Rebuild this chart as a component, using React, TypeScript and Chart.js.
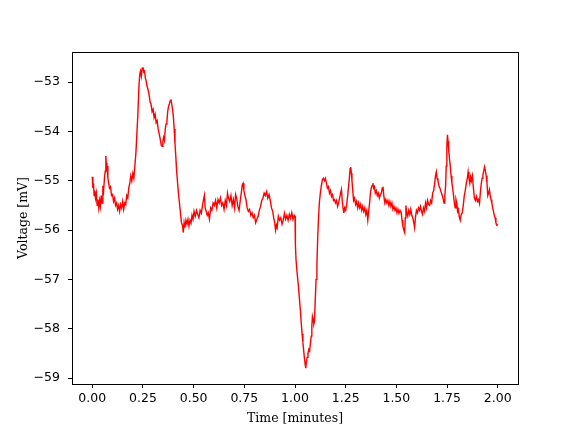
import React, { useEffect, useRef } from "react";
import { Chart, registerables } from "chart.js";

Chart.register(...registerables);

const timeMinutes: number[] = [
  0.000, 0.003, 0.006, 0.009, 0.012, 0.016, 0.020, 0.024, 0.028, 0.032, 0.036, 0.040, 0.044, 0.048, 0.052, 0.056, 0.060, 0.064, 0.067, 0.070,
  0.073, 0.077, 0.081, 0.085, 0.090, 0.095, 0.100, 0.105, 0.110, 0.115, 0.120, 0.125, 0.130, 0.135, 0.140, 0.145, 0.150, 0.155, 0.160, 0.165,
  0.170, 0.175, 0.180, 0.185, 0.190, 0.195, 0.200, 0.205, 0.210, 0.215, 0.220, 0.225, 0.230, 0.234, 0.238, 0.242, 0.246, 0.250, 0.254, 0.258,
  0.262, 0.266, 0.270, 0.275, 0.280, 0.285, 0.290, 0.295, 0.300, 0.305, 0.310, 0.315, 0.320, 0.325, 0.330, 0.335, 0.340, 0.344, 0.348, 0.352,
  0.356, 0.360, 0.364, 0.368, 0.372, 0.376, 0.380, 0.384, 0.388, 0.392, 0.396, 0.400, 0.404, 0.408, 0.412, 0.416, 0.420, 0.425, 0.430, 0.435,
  0.440, 0.445, 0.449, 0.453, 0.457, 0.462, 0.467, 0.472, 0.477, 0.482, 0.487, 0.492, 0.497, 0.502, 0.508, 0.514, 0.520, 0.526, 0.532, 0.538,
  0.544, 0.549, 0.553, 0.557, 0.562, 0.567, 0.572, 0.578, 0.584, 0.590, 0.596, 0.602, 0.608, 0.614, 0.620, 0.626, 0.632, 0.638, 0.644, 0.650,
  0.656, 0.662, 0.667, 0.672, 0.678, 0.684, 0.690, 0.696, 0.702, 0.707, 0.712, 0.718, 0.724, 0.730, 0.735, 0.740, 0.744, 0.748, 0.753, 0.758,
  0.764, 0.770, 0.776, 0.782, 0.788, 0.794, 0.800, 0.806, 0.812, 0.818, 0.824, 0.830, 0.836, 0.842, 0.848, 0.854, 0.860, 0.866, 0.872, 0.878,
  0.884, 0.890, 0.896, 0.900, 0.904, 0.908, 0.912, 0.918, 0.924, 0.930, 0.936, 0.942, 0.948, 0.954, 0.960, 0.966, 0.972, 0.978, 0.984, 0.990,
  0.996, 1.000, 1.002, 1.005, 1.010, 1.016, 1.022, 1.027, 1.031, 1.035, 1.039, 1.043, 1.047, 1.050, 1.053, 1.056, 1.060, 1.064, 1.068, 1.072,
  1.076, 1.080, 1.083, 1.086, 1.089, 1.093, 1.096, 1.100, 1.104, 1.108, 1.112, 1.116, 1.120, 1.125, 1.130, 1.135, 1.140, 1.145, 1.150, 1.155,
  1.160, 1.165, 1.170, 1.175, 1.180, 1.185, 1.190, 1.195, 1.200, 1.205, 1.210, 1.215, 1.220, 1.225, 1.229, 1.233, 1.237, 1.241, 1.245, 1.250,
  1.255, 1.260, 1.264, 1.268, 1.272, 1.275, 1.278, 1.281, 1.285, 1.289, 1.294, 1.299, 1.304, 1.309, 1.314, 1.319, 1.324, 1.329, 1.334, 1.339,
  1.344, 1.349, 1.354, 1.359, 1.364, 1.368, 1.372, 1.376, 1.380, 1.384, 1.388, 1.392, 1.396, 1.401, 1.406, 1.411, 1.416, 1.421, 1.426, 1.430,
  1.434, 1.438, 1.443, 1.448, 1.453, 1.458, 1.463, 1.468, 1.473, 1.478, 1.483, 1.488, 1.493, 1.498, 1.503, 1.508, 1.513, 1.518, 1.524, 1.528,
  1.532, 1.537, 1.541, 1.544, 1.547, 1.551, 1.556, 1.561, 1.566, 1.571, 1.576, 1.581, 1.586, 1.590, 1.594, 1.599, 1.604, 1.609, 1.614, 1.619,
  1.624, 1.629, 1.634, 1.639, 1.644, 1.649, 1.654, 1.659, 1.664, 1.669, 1.674, 1.679, 1.684, 1.689, 1.693, 1.697, 1.701, 1.705, 1.710, 1.715,
  1.720, 1.725, 1.730, 1.735, 1.739, 1.743, 1.746, 1.749, 1.752, 1.755, 1.758, 1.762, 1.766, 1.770, 1.774, 1.778, 1.782, 1.786, 1.790, 1.794,
  1.798, 1.802, 1.806, 1.810, 1.815, 1.820, 1.825, 1.830, 1.835, 1.840, 1.845, 1.850, 1.854, 1.858, 1.862, 1.866, 1.870, 1.875, 1.880, 1.885,
  1.890, 1.895, 1.900, 1.905, 1.910, 1.915, 1.919, 1.923, 1.927, 1.931, 1.935, 1.939, 1.943, 1.947, 1.951, 1.955, 1.959, 1.963, 1.967, 1.971,
  1.975, 1.979, 1.983, 1.987, 1.991, 1.995, 2.000,
];

const voltageMv: number[] = [
  -54.92, -55.15, -55.05, -55.30, -55.20, -55.35, -55.25, -55.50, -55.38, -55.55, -55.40, -55.52, -55.30, -55.45, -55.10, -55.20, -54.95, -54.80, -54.50, -54.75,
  -54.70, -54.95, -55.05, -55.15, -55.12, -55.30, -55.28, -55.42, -55.35, -55.50, -55.45, -55.58, -55.50, -55.62, -55.48, -55.55, -55.42, -55.58, -55.45, -55.48,
  -55.30, -55.35, -55.15, -55.05, -54.90, -55.00, -54.85, -54.95, -54.70, -54.45, -54.05, -53.65, -53.10, -52.85, -52.78, -52.88, -52.72, -52.70, -52.80, -52.78,
  -52.92, -52.98, -53.08, -53.15, -53.25, -53.40, -53.45, -53.60, -53.55, -53.72, -53.65, -53.82, -53.78, -53.95, -54.05, -54.15, -54.28, -54.30, -54.20, -54.12,
  -54.18, -53.95, -53.85, -53.80, -53.60, -53.50, -53.45, -53.38, -53.35, -53.45, -53.55, -53.70, -53.95, -54.25, -54.50, -54.80, -55.00, -55.25, -55.45, -55.65,
  -55.85, -55.90, -56.05, -55.85, -55.95, -55.80, -55.88, -55.78, -55.92, -55.80, -55.86, -55.70, -55.78, -55.62, -55.72, -55.60, -55.68, -55.75, -55.60, -55.66,
  -55.50, -55.38, -55.30, -55.55, -55.62, -55.70, -55.65, -55.78, -55.55, -55.60, -55.45, -55.50, -55.40, -55.55, -55.38, -55.45, -55.35, -55.50, -55.45, -55.58,
  -55.40, -55.50, -55.25, -55.35, -55.42, -55.30, -55.50, -55.38, -55.55, -55.28, -55.35, -55.52, -55.60, -55.40, -55.25, -55.08, -55.05, -55.20, -55.30, -55.38,
  -55.55, -55.62, -55.58, -55.70, -55.65, -55.75, -55.70, -55.85, -55.78, -55.72, -55.60, -55.52, -55.40, -55.35, -55.25, -55.30, -55.22, -55.35, -55.28, -55.40,
  -55.55, -55.62, -55.78, -55.85, -56.00, -55.90, -55.95, -55.72, -55.80, -55.75, -55.88, -55.80, -55.66, -55.78, -55.70, -55.80, -55.68, -55.76, -55.65, -55.78,
  -55.70, -55.72, -56.30, -56.60, -56.85, -57.10, -57.40, -57.65, -57.90, -58.10, -58.28, -58.45, -58.62, -58.72, -58.80, -58.68, -58.58, -58.50, -58.42, -58.45,
  -58.30, -58.15, -57.95, -57.75, -57.80, -57.90, -57.85, -57.40, -57.00, -56.70, -56.15, -55.75, -55.45, -55.25, -55.10, -54.98, -54.95, -55.00, -54.95, -55.05,
  -55.15, -55.12, -55.25, -55.20, -55.32, -55.28, -55.40, -55.38, -55.45, -55.40, -55.52, -55.45, -55.35, -55.25, -55.18, -55.40, -55.55, -55.65, -55.55, -55.60,
  -55.48, -55.30, -55.12, -54.95, -54.75, -54.72, -54.85, -55.00, -55.20, -55.40, -55.35, -55.48, -55.42, -55.55, -55.45, -55.55, -55.48, -55.60, -55.52, -55.62,
  -55.55, -55.68, -55.60, -55.80, -55.60, -55.45, -55.25, -55.15, -55.10, -55.05, -55.15, -55.12, -55.25, -55.20, -55.30, -55.25, -55.35, -55.28, -55.25, -55.15,
  -55.12, -55.30, -55.45, -55.38, -55.45, -55.40, -55.50, -55.42, -55.52, -55.45, -55.58, -55.52, -55.60, -55.55, -55.65, -55.58, -55.66, -55.60, -55.65, -55.80,
  -55.92, -56.00, -56.05, -55.75, -55.50, -55.65, -55.72, -55.60, -55.68, -55.58, -55.70, -55.75, -55.85, -55.95, -55.75, -55.60, -55.65, -55.55, -55.60, -55.52,
  -55.62, -55.68, -55.55, -55.62, -55.45, -55.55, -55.40, -55.48, -55.50, -55.40, -55.45, -55.25, -55.20, -55.05, -54.90, -54.82, -54.95, -55.00, -55.10, -55.15,
  -55.22, -55.28, -55.35, -55.45, -55.30, -55.10, -54.70, -54.30, -54.07, -54.20, -54.38, -54.55, -54.70, -54.90, -55.05, -55.15, -55.30, -55.45, -55.55, -55.38,
  -55.45, -55.62, -55.58, -55.72, -55.80, -55.68, -55.65, -55.50, -55.30, -55.20, -55.05, -54.95, -54.82, -54.95, -55.05, -54.92, -55.00, -54.90, -55.15, -55.35,
  -55.40, -55.32, -55.42, -55.38, -55.46, -55.20, -55.05, -54.95, -54.88, -54.80, -54.72, -54.80, -54.90, -55.05, -55.30, -55.25, -55.18, -55.30, -55.38, -55.45,
  -55.55, -55.62, -55.70, -55.75, -55.85, -55.90, -55.88,
];

const xTickValues: number[] = [0, 0.25, 0.5, 0.75, 1.0, 1.25, 1.5, 1.75, 2.0];
const yTickValues: number[] = [-59, -58, -57, -56, -55, -54, -53];

const xLabel = "Time [minutes]";
const yLabel = "Voltage [mV]";

const W = 576;
const H = 432;
const PLOT_LEFT = 72;
const PLOT_RIGHT = 518;
const PLOT_TOP = 52;
const PLOT_BOTTOM = 384;

const frameBox = {
  id: "frameBox",
  afterDatasetsDraw(chart: any) {
    const { ctx, chartArea } = chart;
    ctx.save();
    ctx.strokeStyle = "#000000";
    ctx.lineWidth = 1;
    ctx.strokeRect(
      Math.round(chartArea.left) + 0.5,
      Math.round(chartArea.top) + 0.5,
      Math.round(chartArea.right - chartArea.left),
      Math.round(chartArea.bottom - chartArea.top)
    );
    ctx.restore();
  },
};

export default function App() {
  const canvasRef = useRef<HTMLCanvasElement | null>(null);

  useEffect(() => {
    document.body.style.margin = "0";
    const canvas = canvasRef.current;
    if (!canvas) return;
    const points = timeMinutes.map((t, i) => ({ x: t, y: voltageMv[i] }));
    const tickFont = { family: "'DejaVu Sans', sans-serif", size: 12.5 };
    const titleFont = { family: "'DejaVu Serif', serif", size: 12.5 };

    const chart = new Chart(canvas, {
      type: "line",
      data: {
        datasets: [
          {
            data: points,
            borderColor: "#ff0000",
            borderWidth: 1.4,
            pointRadius: 0,
            tension: 0,
            fill: false,
          },
        ],
      },
      options: {
        animation: false,
        responsive: false,
        maintainAspectRatio: false,
        devicePixelRatio: 1,
        layout: {
          padding: { left: 0, right: W - PLOT_RIGHT, top: PLOT_TOP, bottom: 0 },
        },
        plugins: {
          legend: { display: false },
          tooltip: { enabled: false },
        },
        scales: {
          x: {
            type: "linear",
            min: -0.1,
            max: 2.1,
            afterBuildTicks: (scale: any) => {
              scale.ticks = xTickValues.map((v) => ({ value: v }));
            },
            afterFit: (scale: any) => {
              scale.height = H - PLOT_BOTTOM;
            },
            grid: {
              drawOnChartArea: false,
              drawTicks: true,
              tickLength: 4,
              tickColor: "#000000",
              tickWidth: 1,
            },
            border: { display: true, color: "#000000", width: 1 },
            ticks: {
              color: "#000000",
              font: tickFont,
              padding: 3,
              maxRotation: 0,
              autoSkip: false,
              callback: (v: any) => Number(v).toFixed(2),
            },
            title: {
              display: true,
              text: xLabel,
              color: "#000000",
              font: titleFont,
              padding: { top: 0, bottom: 6 },
            },
          },
          y: {
            type: "linear",
            min: -59.12,
            max: -52.39,
            afterBuildTicks: (scale: any) => {
              scale.ticks = yTickValues.map((v) => ({ value: v }));
            },
            afterFit: (scale: any) => {
              scale.width = PLOT_LEFT;
            },
            grid: {
              drawOnChartArea: false,
              drawTicks: true,
              tickLength: 4,
              tickColor: "#000000",
              tickWidth: 1,
            },
            border: { display: true, color: "#000000", width: 1 },
            ticks: {
              color: "#000000",
              font: tickFont,
              padding: 8,
              autoSkip: false,
              callback: (v: any) => {
                const n = Number(v);
                return n < 0 ? "\u2212" + Math.abs(n).toString() : n.toString();
              },
            },
            title: {
              display: true,
              text: yLabel,
              color: "#000000",
              font: titleFont,
              padding: { top: 16, bottom: 0 },
            },
          },
        },
      },
      plugins: [frameBox],
    });

    return () => {
      chart.destroy();
    };
  }, []);

  return (
    <div style={{ width: W, height: H, background: "#ffffff" }}>
      <canvas ref={canvasRef} width={W} height={H} style={{ width: W, height: H, display: "block" }} />
    </div>
  );
}
